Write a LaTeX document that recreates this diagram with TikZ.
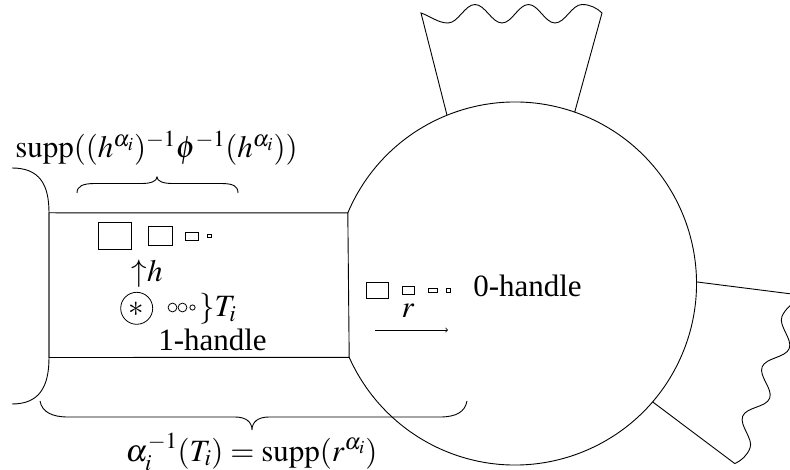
\documentclass[tikz,border=0pt]{standalone}
\usepackage{mathptmx}
\usepackage{fontspec}
\setmainfont{Liberation Serif}
\newcommand{\myflag}{%
  \draw (447,115.2) -- (421,13)
    .. controls (430,16) and (438,23) .. (448,23)
    .. controls (458,23) and (465,4.5) .. (475,4.5)
    .. controls (485,4.5) and (492,23) .. (502,23)
    .. controls (512,23) and (518.5,4.5) .. (528.5,4.5)
    .. controls (538.5,4.5) and (545,23) .. (555,23)
    .. controls (565,23) and (572,4.5) .. (582,4.5)
    .. controls (590,4.5) and (597,8) .. (602,13) -- (574.7,112.1);}
\begin{document}
\begin{tikzpicture}[x=1pt,y=-1pt,line width=0.9pt,
  lbl/.style={inner sep=0pt,outer sep=0pt,font=\fontsize{31}{37}\selectfont},
  sq/.style={draw,line width=0.8pt}]
\useasboundingbox (0,0) rectangle (790,470);
\clip (0,0) rectangle (790,470);
\coordinate (C) at (515,283.5);
% 0-handle disc
\draw (C) ++(-157.1:181.5) coordinate (RT) arc[start angle=-157.1,end angle=156,radius=181.5] coordinate (RB);
% 1-handle
\coordinate (LT) at (49,212.8);
\coordinate (LB) at (49,357.5);
\draw (LT) -- (RT) -- (RB) -- (LB) -- cycle;
% flags
\myflag
\begin{scope}[rotate around={-111.5:(C)}]
\myflag
\end{scope}
% left bracket
\draw (12,168) .. controls (40,168) and (49,185) .. (LT) -- (LB) .. controls (49,386) and (40,404) .. (12,404);
% top brace
\draw (77,193) .. controls (77,186) and (83,183.5) .. (95,183.5) -- (142,183.5)
  .. controls (151,183.5) and (157,181) .. (157,177)
  .. controls (157,181) and (163,183.5) .. (172,183.5) -- (221,183.5)
  .. controls (233,183.5) and (238,186) .. (238,193);
% bottom brace
\draw (40,401) .. controls (42,412) and (52,417) .. (68,417) -- (235,417)
  .. controls (246,417) and (252,422) .. (252,430)
  .. controls (252,422) and (258,417) .. (269,417) -- (440,417)
  .. controls (456,417) and (465,412) .. (467,401);
% labels
\node[lbl,anchor=base] (suppa) at (156.5,158) {$\mathrm{supp}((h^{\alpha_i})^{-1}\phi^{-1}(h^{\alpha_i}))$};
\node[lbl,anchor=base] (suppb) at (251.5,461) {$\alpha_i^{-1}(T_i)=\mathrm{supp}(r^{\alpha_i})$};
\node[lbl,anchor=base] (one) at (212.5,350.5) {1-handle};
\node[lbl,anchor=base] (zero) at (527.5,297) {0-handle};
% squares in 1-handle
\draw[sq] (98,222) rectangle (131,249);
\draw[sq] (148,226) rectangle (172,245);
\draw[sq] (185,232) rectangle (198,240);
\draw[sq] (207,234) rectangle (211,237);
% squares in 0-handle
\draw[sq] (366,282) rectangle (388,298);
\draw[sq] (402,286) rectangle (414,294);
\draw[sq] (428,288) rectangle (437,292.5);
\draw[sq] (446,288.5) rectangle (450,292);
% h arrow
\node[lbl,anchor=base] (up) at (139,282) {$\uparrow$};
\node[lbl,anchor=base west] (h) at (147,282) {$h$};
% T_i
\node[lbl,draw,circle,line width=0.8pt,minimum size=32pt] (star) at (136.7,308.3) {};
\node[lbl] (ast) at (136.7,309) {$\ast$};
\draw[line width=0.8pt] (172.5,307.5) circle[radius=4.4];
\draw[line width=0.8pt] (182.5,307.5) circle[radius=4.4];
\draw[line width=0.8pt] (192.5,307.5) circle[radius=2.6];
\node[lbl,anchor=base west] (Ti) at (199,317) {$\}T_i$};
% r arrow
\coordinate (ra) at (375,330);
\coordinate (rb) at (448,330);
\draw[->,line width=0.8pt] (ra) -- (rb);
\node[lbl,anchor=base] (r) at (408,318) {$r$};
\end{tikzpicture}
\end{document}
